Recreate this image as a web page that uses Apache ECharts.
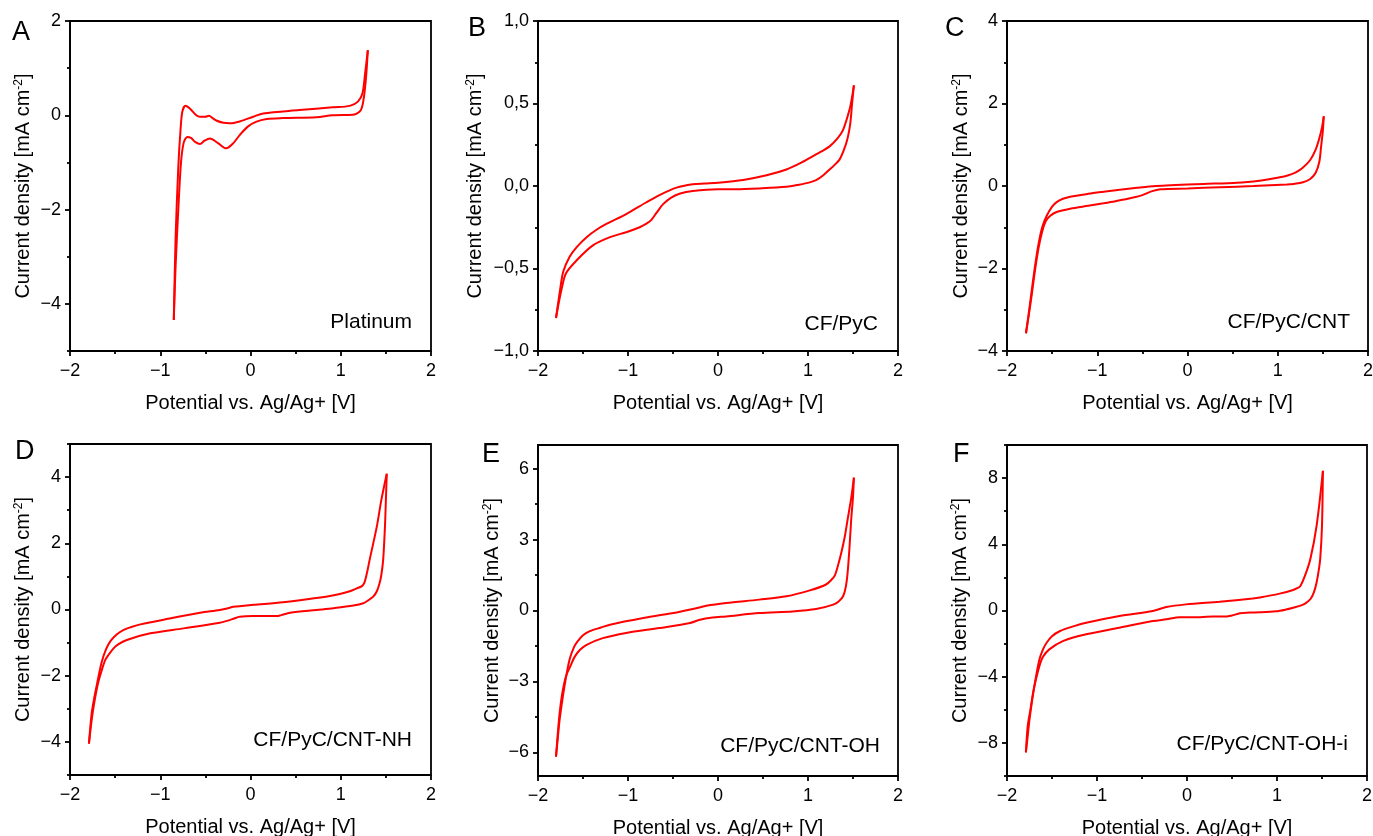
<!DOCTYPE html>
<html><head><meta charset="utf-8">
<script src="https://cdn.jsdelivr.net/npm/echarts@6/dist/echarts.min.js"></script>
<style>html,body{margin:0;padding:0;background:#fff}#c{width:1373px;height:836px}</style>
</head><body><div id="c"></div>
<script>
// ---------- data ----------
const xTickValues = [-2, -1, 0, 1, 2];
const panelLetters = ['A', 'B', 'C', 'D', 'E', 'F'];
const panelNames = ['Platinum', 'CF/PyC', 'CF/PyC/CNT', 'CF/PyC/CNT-NH', 'CF/PyC/CNT-OH', 'CF/PyC/CNT-OH-i'];
const xTitle = 'Potential vs. Ag/Ag+ [V]';

const yRangeA = [-5, 2],   yMajorA = [-4, -2, 0, 2],          yMinorA = [-5, -3, -1, 1];
const yRangeB = [-1, 1],   yMajorB = [-1, -0.5, 0, 0.5, 1],   yMinorB = [-0.75, -0.25, 0.25, 0.75];
const yRangeC = [-4, 4],   yMajorC = [-4, -2, 0, 2, 4],       yMinorC = [-3, -1, 1, 3];
const yRangeD = [-5, 5],   yMajorD = [-4, -2, 0, 2, 4],       yMinorD = [-5, -3, -1, 1, 3, 5];
const yRangeE = [-7, 7],   yMajorE = [-6, -3, 0, 3, 6],       yMinorE = [-4.5, -1.5, 1.5, 4.5];
const yRangeF = [-10, 10], yMajorF = [-8, -4, 0, 4, 8],       yMinorF = [-10, -6, -2, 2, 6, 10];

const A_scan1 = [[-0.85,-4.34],[-0.83,-2.6],[-0.80,-1.1],[-0.775,-0.3],[-0.755,0.08],[-0.72,0.20],[-0.67,0.14],[-0.60,0.0],[-0.56,-0.03],[-0.50,-0.03],[-0.46,-0.01],[-0.42,-0.06],[-0.38,-0.11],[-0.30,-0.16],[-0.23,-0.17],[-0.12,-0.13],[0.03,-0.03],[0.14,0.04],[0.54,0.11],[0.91,0.17],[1.10,0.20],[1.19,0.29],[1.24,0.46],[1.27,0.89],[1.30,1.38]];
const A_scan2 = [[1.30,1.38],[1.28,0.8],[1.25,0.3],[1.22,0.1],[1.17,0.03],[1.13,0.01],[0.91,0.0],[0.73,-0.04],[0.36,-0.06],[0.18,-0.08],[0.06,-0.14],[-0.03,-0.24],[-0.12,-0.42],[-0.19,-0.59],[-0.27,-0.70],[-0.36,-0.59],[-0.45,-0.49],[-0.51,-0.54],[-0.56,-0.61],[-0.61,-0.57],[-0.66,-0.48],[-0.70,-0.46],[-0.74,-0.58],[-0.77,-1.0],[-0.80,-2.0],[-0.83,-3.2],[-0.85,-4.34]];

const B_scan1 = [[-1.80,-0.80],[-1.76,-0.65],[-1.72,-0.52],[-1.65,-0.43],[-1.57,-0.37],[-1.46,-0.31],[-1.35,-0.265],[-1.24,-0.23],[-1.02,-0.17],[-0.80,-0.10],[-0.65,-0.055],[-0.46,-0.01],[-0.28,0.01],[-0.15,0.015],[0.0,0.02],[0.28,0.037],[0.54,0.065],[0.76,0.10],[0.92,0.14],[1.05,0.18],[1.15,0.21],[1.24,0.24],[1.33,0.29],[1.39,0.34],[1.46,0.46],[1.49,0.54],[1.51,0.61]];
const B_scan2 = [[1.51,0.61],[1.49,0.50],[1.47,0.38],[1.44,0.29],[1.40,0.22],[1.35,0.16],[1.29,0.125],[1.24,0.10],[1.17,0.065],[1.09,0.035],[1.02,0.022],[0.90,0.008],[0.76,-0.005],[0.46,-0.015],[0.20,-0.02],[0.0,-0.02],[-0.28,-0.03],[-0.42,-0.045],[-0.52,-0.07],[-0.61,-0.11],[-0.68,-0.16],[-0.74,-0.205],[-0.80,-0.23],[-0.87,-0.25],[-1.02,-0.28],[-1.20,-0.31],[-1.39,-0.36],[-1.57,-0.45],[-1.69,-0.53],[-1.74,-0.63],[-1.77,-0.71],[-1.80,-0.80]];

const C_scan1 = [[-1.79,-3.57],[-1.76,-3.1],[-1.73,-2.6],[-1.69,-1.95],[-1.65,-1.40],[-1.61,-1.0],[-1.56,-0.72],[-1.50,-0.50],[-1.45,-0.39],[-1.38,-0.31],[-1.30,-0.26],[-1.10,-0.19],[-0.93,-0.14],[-0.75,-0.09],[-0.56,-0.045],[-0.35,0.0],[-0.19,0.02],[0.18,0.05],[0.55,0.08],[0.80,0.13],[0.95,0.18],[1.10,0.25],[1.20,0.33],[1.28,0.45],[1.36,0.63],[1.42,0.88],[1.46,1.15],[1.49,1.42],[1.51,1.69]];
const C_scan2 = [[1.51,1.69],[1.50,1.35],[1.48,0.95],[1.46,0.58],[1.42,0.32],[1.36,0.17],[1.28,0.09],[1.18,0.05],[1.10,0.035],[0.73,0.0],[0.36,-0.03],[0.0,-0.06],[-0.30,-0.08],[-0.40,-0.13],[-0.50,-0.22],[-0.60,-0.28],[-0.80,-0.37],[-0.93,-0.42],[-1.10,-0.48],[-1.30,-0.55],[-1.45,-0.63],[-1.52,-0.72],[-1.57,-0.85],[-1.61,-1.10],[-1.65,-1.5],[-1.69,-2.05],[-1.73,-2.7],[-1.76,-3.15],[-1.79,-3.57]];

const D_scan1 = [[-1.79,-4.05],[-1.76,-3.14],[-1.73,-2.65],[-1.70,-2.24],[-1.65,-1.60],[-1.60,-1.20],[-1.55,-0.95],[-1.48,-0.75],[-1.41,-0.62],[-1.32,-0.53],[-1.22,-0.45],[-0.93,-0.29],[-0.56,-0.10],[-0.34,-0.015],[-0.25,0.04],[-0.19,0.08],[0.03,0.14],[0.36,0.22],[0.73,0.35],[0.88,0.41],[0.99,0.47],[1.10,0.55],[1.18,0.64],[1.23,0.70],[1.26,0.80],[1.29,1.10],[1.32,1.50],[1.40,2.51],[1.45,3.31],[1.51,4.10]];
const D_scan2 = [[1.51,4.10],[1.50,3.3],[1.49,2.51],[1.47,1.50],[1.45,1.05],[1.43,0.79],[1.40,0.55],[1.36,0.39],[1.30,0.27],[1.25,0.19],[1.14,0.12],[0.92,0.04],[0.73,-0.015],[0.44,-0.10],[0.34,-0.17],[0.29,-0.20],[0.03,-0.20],[-0.12,-0.22],[-0.18,-0.27],[-0.23,-0.32],[-0.34,-0.40],[-0.74,-0.57],[-1.11,-0.72],[-1.37,-0.92],[-1.47,-1.06],[-1.52,-1.18],[-1.57,-1.36],[-1.61,-1.53],[-1.65,-1.85],[-1.69,-2.24],[-1.73,-2.8],[-1.76,-3.34],[-1.79,-4.05]];

const E_scan1 = [[-1.80,-6.18],[-1.78,-5.4],[-1.76,-4.63],[-1.73,-3.8],[-1.70,-3.07],[-1.65,-2.08],[-1.60,-1.55],[-1.56,-1.31],[-1.50,-1.05],[-1.43,-0.88],[-1.30,-0.72],[-1.20,-0.60],[-0.83,-0.32],[-0.46,-0.08],[-0.28,0.06],[-0.13,0.20],[0.09,0.32],[0.46,0.46],[0.76,0.60],[1.02,0.85],[1.20,1.10],[1.26,1.30],[1.30,1.50],[1.34,2.0],[1.37,2.44],[1.41,3.15],[1.44,3.85],[1.48,4.75],[1.51,5.62]];
const E_scan2 = [[1.51,5.62],[1.50,4.8],[1.48,3.85],[1.46,2.6],[1.44,1.59],[1.42,1.0],[1.39,0.60],[1.34,0.38],[1.28,0.25],[1.09,0.06],[0.83,-0.04],[0.46,-0.11],[0.09,-0.25],[-0.06,-0.30],[-0.20,-0.39],[-0.31,-0.53],[-0.65,-0.74],[-1.02,-0.95],[-1.28,-1.17],[-1.46,-1.45],[-1.53,-1.65],[-1.59,-1.94],[-1.64,-2.35],[-1.69,-2.79],[-1.73,-3.5],[-1.76,-4.35],[-1.78,-5.2],[-1.80,-6.18]];

const F_scan1 = [[-1.79,-8.57],[-1.77,-7.6],[-1.75,-6.59],[-1.72,-5.4],[-1.69,-4.37],[-1.64,-2.96],[-1.60,-2.35],[-1.56,-1.95],[-1.50,-1.55],[-1.41,-1.24],[-1.30,-1.02],[-1.12,-0.74],[-0.75,-0.33],[-0.38,-0.03],[-0.23,0.21],[-0.01,0.37],[0.36,0.53],[0.73,0.72],[0.81,0.78],[1.03,1.02],[1.18,1.24],[1.23,1.36],[1.26,1.48],[1.31,2.09],[1.37,3.10],[1.44,5.12],[1.51,8.44]];
const F_scan2 = [[1.51,8.44],[1.50,5.12],[1.48,3.10],[1.46,2.3],[1.44,1.69],[1.41,1.1],[1.37,0.68],[1.32,0.45],[1.27,0.31],[1.18,0.17],[1.10,0.06],[0.99,-0.05],[0.81,-0.11],[0.70,-0.12],[0.59,-0.17],[0.50,-0.30],[0.44,-0.37],[0.29,-0.37],[0.07,-0.41],[-0.08,-0.41],[-0.23,-0.53],[-0.38,-0.64],[-0.75,-1.04],[-1.12,-1.44],[-1.38,-1.85],[-1.53,-2.35],[-1.60,-2.8],[-1.64,-3.36],[-1.68,-4.2],[-1.71,-4.97],[-1.74,-6.0],[-1.77,-6.99],[-1.79,-8.57]];

// ---------- layout ----------
const FONT = '"Liberation Sans", Arial, sans-serif';
const panels = [
  {yr: yRangeA, maj: yMajorA, min: yMinorA, s1: A_scan1, s2: A_scan2, dec: 0, left: 70,   top: 21,  w: 361, h: 330, gap: 37, lx: 12,  ly: 35,  tx: 412,  ty: 322},
  {yr: yRangeB, maj: yMajorB, min: yMinorB, s1: B_scan1, s2: B_scan2, dec: 1, left: 538,  top: 21,  w: 360, h: 330, gap: 53, lx: 468, ly: 31,  tx: 878,  ty: 324},
  {yr: yRangeC, maj: yMajorC, min: yMinorC, s1: C_scan1, s2: C_scan2, dec: 0, left: 1007, top: 21,  w: 361, h: 330, gap: 36, lx: 945, ly: 31,  tx: 1350, ty: 322},
  {yr: yRangeD, maj: yMajorD, min: yMinorD, s1: D_scan1, s2: D_scan2, dec: 0, left: 70,   top: 444, w: 361, h: 331, gap: 37, lx: 15,  ly: 454, tx: 412,  ty: 740},
  {yr: yRangeE, maj: yMajorE, min: yMinorE, s1: E_scan1, s2: E_scan2, dec: 0, left: 538,  top: 445, w: 360, h: 331, gap: 36, lx: 482, ly: 457, tx: 880,  ty: 746},
  {yr: yRangeF, maj: yMajorF, min: yMinorF, s1: F_scan1, s2: F_scan2, dec: 0, left: 1007, top: 445, w: 360, h: 331, gap: 37, lx: 953, ly: 457, tx: 1348, ty: 744}
];

function fmt(v, dec) {
  let s = dec ? Number(v).toFixed(dec).replace('.', ',') : String(Math.round(v));
  return s.replace('-', '\u2212');
}

const black = '#000';
const lineW = 1.8;
const grids = [], xAxes = [], yAxes = [], series = [], graphics = [];

panels.forEach((p, i) => {
  grids.push({left: p.left, top: p.top, width: p.w, height: p.h, show: true, borderColor: black, borderWidth: lineW, containLabel: false, outerBoundsMode: 'none'});
  xAxes.push({
    gridIndex: i, type: 'value', min: xTickValues[0], max: xTickValues[xTickValues.length - 1], interval: 1,
    name: xTitle, nameLocation: 'middle', nameGap: 42,
    nameTextStyle: {fontSize: 20, color: black, fontFamily: FONT},
    axisLine: {show: true, onZero: false, lineStyle: {color: black, width: lineW}},
    axisTick: {show: true, inside: false, length: 5, lineStyle: {color: black, width: lineW}},
    minorTick: {show: true, splitNumber: 2, length: 3, lineStyle: {color: black, width: lineW}},
    splitLine: {show: false}, minorSplitLine: {show: false},
    axisLabel: {fontSize: 18, color: black, fontFamily: FONT, margin: 11, formatter: v => fmt(v, 0)}
  });
  yAxes.push({
    gridIndex: i, type: 'value', min: p.yr[0], max: p.yr[1], position: 'left',
    name: '{a|Current density [mA cm}{s|-2}{a|]}', nameLocation: 'middle', nameRotate: 90, nameGap: p.gap,
    nameTextStyle: {color: black, fontFamily: FONT, rich: {
      a: {fontSize: 20, color: black, fontFamily: FONT},
      s: {fontSize: 12, color: black, fontFamily: FONT, verticalAlign: 'top'}
    }},
    axisLine: {show: true, onZero: false, lineStyle: {color: black, width: lineW}},
    axisTick: {show: true, inside: false, length: 5, customValues: p.maj, lineStyle: {color: black, width: lineW}},
    axisLabel: {show: true, customValues: p.maj, fontSize: 18, color: black, fontFamily: FONT, margin: 9, formatter: v => fmt(v, p.dec)},
    splitLine: {show: false}
  });
  yAxes.push({
    gridIndex: i, type: 'value', min: p.yr[0], max: p.yr[1], position: 'left', offset: 0,
    axisLine: {show: false, onZero: false},
    axisTick: {show: true, inside: false, length: 3, customValues: p.min, lineStyle: {color: black, width: lineW}},
    axisLabel: {show: false},
    splitLine: {show: false}
  });
  [p.s1, p.s2].forEach(d => series.push({
    type: 'line', xAxisIndex: i, yAxisIndex: 2 * i, data: d, smooth: 0.3,
    showSymbol: false, symbol: 'none', silent: true, animation: false,
    lineStyle: {color: '#ff0000', width: 2}
  }));
  graphics.push({type: 'text', left: p.lx, top: p.ly - 16, style: {text: panelLetters[i], fontSize: 27, fill: black, fontFamily: FONT}});
  graphics.push({type: 'text', x: p.tx, y: p.ty, style: {text: panelNames[i], fontSize: 21, fill: black, fontFamily: FONT, textAlign: 'right', textVerticalAlign: 'middle'}});
});

const chart = echarts.init(document.getElementById('c'), null, {renderer: 'canvas'});
chart.setOption({
  backgroundColor: '#fff',
  animation: false,
  textStyle: {fontFamily: FONT},
  grid: grids, xAxis: xAxes, yAxis: yAxes, series: series, graphic: graphics
});
</script></body></html>
